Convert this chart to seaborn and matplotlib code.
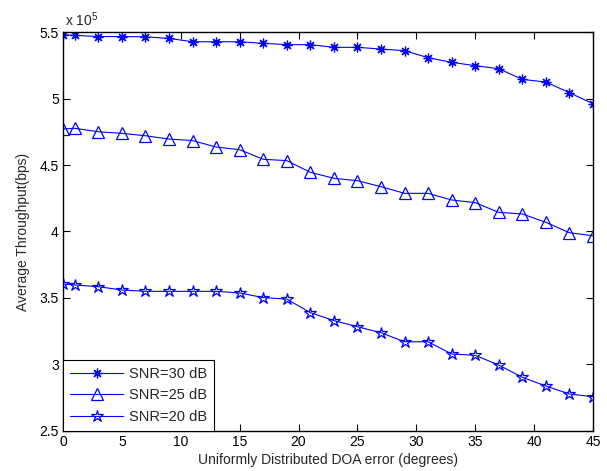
import matplotlib
matplotlib.use("Agg")
import matplotlib.pyplot as plt
from matplotlib.ticker import FuncFormatter, MultipleLocator
import seaborn as sns
import pandas as pd

# DOA error (degrees)
doa_error = [0, 1, 3, 5, 7, 9, 11, 13, 15, 17, 19, 21, 23, 25, 27, 29, 31, 33, 35, 37, 39, 41, 43, 45]
# Average throughput (x 10^5 bps)
snr30 = [5.480, 5.475, 5.466, 5.466, 5.464, 5.452, 5.427, 5.427, 5.427, 5.415, 5.405, 5.405,
         5.385, 5.385, 5.372, 5.360, 5.307, 5.272, 5.247, 5.224, 5.144, 5.124, 5.044, 4.961]
snr25 = [4.771, 4.776, 4.750, 4.738, 4.720, 4.695, 4.684, 4.635, 4.615, 4.543, 4.533, 4.445,
         4.400, 4.382, 4.337, 4.287, 4.287, 4.237, 4.217, 4.144, 4.132, 4.069, 3.991, 3.968]
snr20 = [3.605, 3.598, 3.585, 3.560, 3.550, 3.550, 3.550, 3.550, 3.538, 3.503, 3.492, 3.390,
         3.330, 3.284, 3.239, 3.171, 3.171, 3.079, 3.069, 2.996, 2.904, 2.838, 2.778, 2.758]
labels = ["SNR=30 dB", "SNR=25 dB", "SNR=20 dB"]

sns.set_style("ticks")
plt.rcParams["font.family"] = ["Liberation Sans", "DejaVu Sans"]
plt.rcParams["mathtext.fontset"] = "custom"
plt.rcParams["mathtext.rm"] = "Liberation Sans"
plt.rcParams["mathtext.it"] = "Liberation Sans"

fig = plt.figure(figsize=(6.07, 4.71), dpi=100)
ax = fig.add_axes([0.1038, 0.085, 0.873, 0.847])

blue = "#0000ff"
styles = [
    dict(marker=(8, 2, 0), markersize=7, markerfacecolor=blue),
    dict(marker="^", markersize=8, markerfacecolor="none"),
    dict(marker="*", markersize=9, markerfacecolor="none"),
]
for vals, lab, st in zip([snr30, snr25, snr20], labels, styles):
    df = pd.DataFrame({"x": doa_error, "y": vals})
    sns.lineplot(data=df, x="x", y="y", ax=ax, color=blue, linewidth=0.8,
                 markeredgecolor=blue, markeredgewidth=0.9, label=lab, **st)

ax.set_xlim(0, 45)
ax.set_ylim(2.5, 5.5)
ax.xaxis.set_major_locator(MultipleLocator(5))
ax.yaxis.set_major_locator(MultipleLocator(0.5))
ax.yaxis.set_major_formatter(FuncFormatter(lambda v, p: f"{v:g}"))
ax.tick_params(direction="in", top=True, right=True, length=5, width=0.8,
               labelsize=10, colors="black", pad=3)
for s in ax.spines.values():
    s.set_visible(True)
    s.set_color("black")
    s.set_linewidth(1.0)

ax.set_xlabel("Uniformly Distributed DOA error (degrees)", fontsize=10, labelpad=3)
ax.set_ylabel("Average Throughput(bps)", fontsize=10, labelpad=7)
ax.text(0.003, 1.008, r"x 10$^{5}$", transform=ax.transAxes, fontsize=10,
        ha="left", va="bottom")

leg = ax.legend(loc="lower left", fontsize=10.5, frameon=True, fancybox=False,
                handlelength=3.6, borderaxespad=0, labelspacing=0.5,
                borderpad=0.5, handletextpad=0.4)
leg.get_frame().set_edgecolor("black")
leg.get_frame().set_linewidth(0.8)
leg.get_frame().set_alpha(1)

fig.savefig("out.png", dpi=100)
